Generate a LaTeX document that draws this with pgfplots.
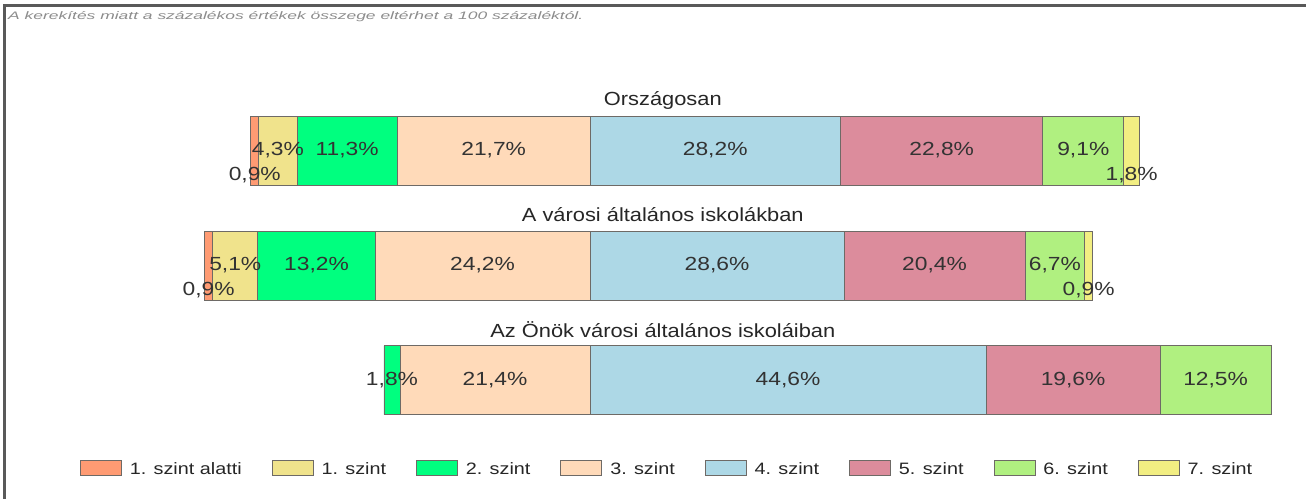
\documentclass[border=0pt]{standalone}
\usepackage{graphicx}
\usepackage{pgfplots}
\pgfplotsset{compat=1.18}
\usepackage{fontspec}
\setmainfont{Liberation Sans}
\definecolor{c0}{HTML}{FF9B73}
\definecolor{c1}{HTML}{F0E38C}
\definecolor{c2}{HTML}{00FF7F}
\definecolor{c3}{HTML}{FFDAB9}
\definecolor{c4}{HTML}{ADD8E6}
\definecolor{c5}{HTML}{DC8C9C}
\definecolor{c6}{HTML}{B0F080}
\definecolor{c7}{HTML}{F2EE82}
\definecolor{edge}{HTML}{6E6A66}
\definecolor{txt}{HTML}{333333}
\newcommand{\vlab}[1]{\scalebox{1.2}[1]{\fontsize{19}{22}\selectfont #1}}
\newcommand{\ttlx}[1]{\scalebox{1.15}[1]{\fontsize{19}{22}\selectfont #1}}
\newcommand{\lgd}[1]{\scalebox{1.2}[1]{#1}}
\pgfplotsset{
  mybar/.style={fill=#1, draw=edge, line width=0.8pt,
    legend image code/.code={\draw[fill=#1, draw=edge, line width=0.8pt] (0pt,-7.5pt) rectangle (41pt,7.5pt);}},
}
% x axis: percent, with the 3./4. level boundary at 50
\begin{document}
\begin{tikzpicture}
\begin{axis}[
  scale only axis, width=1306pt, height=498pt,
  xmin=-16.441, xmax=130.631, ymin=0, ymax=498, y dir=reverse,
  hide axis, clip=false,
  xbar stacked, bar width=69,
  legend columns=8,
  legend style={at={(0.0613,0.0602)}, anchor=west, draw=none, fill=none,
    inner sep=0pt, outer sep=0pt,
    font=\fontsize{16.5}{18}\selectfont,
    nodes={inner sep=0pt, text depth=0pt, text=black!85},
    /tikz/every odd column/.append style={column sep=8pt},
    /tikz/every even column/.append style={column sep=30pt}},
]
% invisible offset (50 minus the share below 4. szint)
\addplot[draw=none, fill=none, legend image code/.code={}] coordinates {(11.8,150.5) (6.6,265.5) (26.8,380)};
\addplot[mybar=c0] coordinates {(0.9,150.5) (0.9,265.5) (0,380)};
\addplot[mybar=c1] coordinates {(4.3,150.5) (5.1,265.5) (0,380)};
\addplot[mybar=c2] coordinates {(11.3,150.5) (13.2,265.5) (1.8,380)};
\addplot[mybar=c3] coordinates {(21.7,150.5) (24.2,265.5) (21.4,380)};
\addplot[mybar=c4] coordinates {(28.2,150.5) (28.6,265.5) (44.6,380)};
\addplot[mybar=c5] coordinates {(22.8,150.5) (20.4,265.5) (19.6,380)};
\addplot[mybar=c6] coordinates {(9.1,150.5) (6.7,265.5) (12.5,380)};
\addplot[mybar=c7] coordinates {(1.8,150.5) (0.9,265.5) (0,380)};
\legend{,\lgd{1. szint alatti}, \lgd{1. szint}, \lgd{2. szint}, \lgd{3. szint}, \lgd{4. szint}, \lgd{5. szint}, \lgd{6. szint}, \lgd{7. szint}}
% frame and note
\draw[line width=3pt, black!65] (axis cs:-15.88,500) -- (axis cs:-15.88,5.5) -- (axis cs:131,5.5);
\node[anchor=west, inner sep=0pt, text=black!45] at (axis cs:-15.54,17)
  {\resizebox{575pt}{8pt}{\itshape A kerekítés miatt a százalékos értékek összege eltérhet a 100 százaléktól.}};
% title and label anchor points
\coordinate (t1) at (axis cs:58.2,100);
\coordinate (t2) at (axis cs:58.2,215);
\coordinate (t3) at (axis cs:58.2,330);
\coordinate (a1) at (axis cs:12.25,175.5);
\coordinate (a2) at (axis cs:14.85,150.5);
\coordinate (a3) at (axis cs:22.65,150.5);
\coordinate (a4) at (axis cs:39.15,150.5);
\coordinate (a5) at (axis cs:64.1,150.5);
\coordinate (a6) at (axis cs:89.6,150.5);
\coordinate (a7) at (axis cs:105.55,150.5);
\coordinate (a8) at (axis cs:111.0,175.5);
\coordinate (b1) at (axis cs:7.05,290.5);
\coordinate (b2) at (axis cs:10.05,265.5);
\coordinate (b3) at (axis cs:19.2,265.5);
\coordinate (b4) at (axis cs:37.9,265.5);
\coordinate (b5) at (axis cs:64.3,265.5);
\coordinate (b6) at (axis cs:88.8,265.5);
\coordinate (b7) at (axis cs:102.35,265.5);
\coordinate (b8) at (axis cs:106.15,290.5);
\coordinate (d3) at (axis cs:27.7,380);
\coordinate (d4) at (axis cs:39.3,380);
\coordinate (d5) at (axis cs:72.3,380);
\coordinate (d6) at (axis cs:104.4,380);
\coordinate (d7) at (axis cs:120.45,380);
\end{axis}
% titles
\node[text=black!85] at (t1) {\ttlx{Országosan}};
\node[text=black!85] at (t2) {\ttlx{A városi általános iskolákban}};
\node[text=black!85] at (t3) {\ttlx{Az Önök városi általános iskoláiban}};
% value labels, on top of the bars
\node[text=txt] at (a1) {\vlab{0,9\%}};
\node[text=txt] at (a2) {\vlab{4,3\%}};
\node[text=txt] at (a3) {\vlab{11,3\%}};
\node[text=txt] at (a4) {\vlab{21,7\%}};
\node[text=txt] at (a5) {\vlab{28,2\%}};
\node[text=txt] at (a6) {\vlab{22,8\%}};
\node[text=txt] at (a7) {\vlab{9,1\%}};
\node[text=txt] at (a8) {\vlab{1,8\%}};
\node[text=txt] at (b1) {\vlab{0,9\%}};
\node[text=txt] at (b2) {\vlab{5,1\%}};
\node[text=txt] at (b3) {\vlab{13,2\%}};
\node[text=txt] at (b4) {\vlab{24,2\%}};
\node[text=txt] at (b5) {\vlab{28,6\%}};
\node[text=txt] at (b6) {\vlab{20,4\%}};
\node[text=txt] at (b7) {\vlab{6,7\%}};
\node[text=txt] at (b8) {\vlab{0,9\%}};
\node[text=txt] at (d3) {\vlab{1,8\%}};
\node[text=txt] at (d4) {\vlab{21,4\%}};
\node[text=txt] at (d5) {\vlab{44,6\%}};
\node[text=txt] at (d6) {\vlab{19,6\%}};
\node[text=txt] at (d7) {\vlab{12,5\%}};
\pgfresetboundingbox
\path[use as bounding box] (0,0) rectangle (1306pt,498pt);
\end{tikzpicture}
\end{document}
